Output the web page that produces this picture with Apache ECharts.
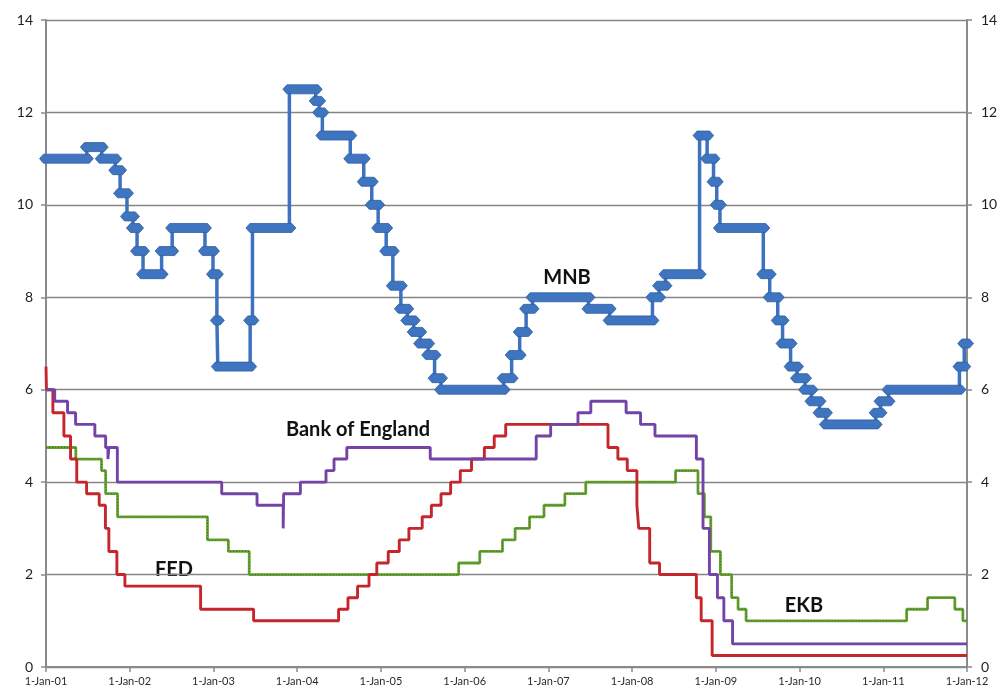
<!DOCTYPE html>
<html><head><meta charset="utf-8">
<script src="https://cdn.jsdelivr.net/npm/echarts@6/dist/echarts.min.js"></script>
<style>html,body{margin:0;padding:0;background:#fff}#c{width:1003px;height:692px}</style>
</head><body><div id="c"></div>
<script>
// ---- data ----
const xTickYears = [2001,2002,2003,2004,2005,2006,2007,2008,2009,2010,2011,2012];
const yTicks = [0,2,4,6,8,10,12,14];

const mnbDates = ['2001-01-01','2001-06-28','2001-09-01','2001-10-30','2001-11-20','2001-12-20','2002-01-15','2002-02-02','2002-02-28','2002-05-20','2002-07-05','2002-11-25','2002-12-30','2003-01-16','2003-01-20','2003-06-10','2003-06-20','2003-11-28','2004-03-22','2004-04-06','2004-04-20','2004-08-20','2004-10-18','2004-11-22','2004-12-20','2005-01-24','2005-02-22','2005-03-29','2005-04-26','2005-05-24','2005-06-21','2005-07-26','2005-08-23','2005-09-20','2006-06-20','2006-07-25','2006-08-29','2006-09-26','2006-10-24','2007-06-25','2007-09-25','2008-03-30','2008-04-28','2008-05-26','2008-10-22','2008-11-24','2008-12-22','2009-01-05','2009-01-19','2009-07-27','2009-08-24','2009-09-28','2009-10-19','2009-11-23','2009-12-21','2010-01-25','2010-02-22','2010-03-29','2010-04-26','2010-11-29','2010-12-20','2011-01-24','2011-11-29','2011-12-20','2012-01-01'];
const mnbValues = [11.0,11.25,11.0,10.75,10.25,9.75,9.5,9.0,8.5,9.0,9.5,9.0,8.5,7.5,6.5,7.5,9.5,12.5,12.25,12.0,11.5,11.0,10.5,10.0,9.5,9.0,8.25,7.75,7.5,7.25,7.0,6.75,6.25,6.0,6.25,6.75,7.25,7.75,8.0,7.75,7.5,8.0,8.25,8.5,11.5,11.0,10.5,10.0,9.5,8.5,8.0,7.5,7.0,6.5,6.25,6.0,5.75,5.5,5.25,5.5,5.75,6.0,6.5,7.0,7.0];

const boeDates = ['2001-01-01','2001-02-08','2001-04-05','2001-05-10','2001-08-02','2001-09-18','2001-09-28','2001-10-02','2001-11-08','2003-02-06','2003-07-10','2003-11-01','2003-11-03','2004-01-15','2004-05-06','2004-06-10','2004-08-05','2005-08-04','2006-11-09','2007-01-11','2007-05-10','2007-07-05','2007-12-06','2008-02-07','2008-04-10','2008-10-08','2008-11-06','2008-12-04','2009-01-08','2009-02-05','2009-03-15','2012-01-01'];
const boeValues = [6.0,5.75,5.5,5.25,5.0,4.75,4.5,4.75,4.0,3.75,3.5,3.0,3.75,4.0,4.25,4.5,4.75,4.5,5.0,5.25,5.5,5.75,5.5,5.25,5.0,4.5,3.0,2.0,1.5,1.0,0.5,0.5];

const fedDates = ['2001-01-01','2001-01-03','2001-01-31','2001-03-20','2001-04-18','2001-05-15','2001-06-27','2001-08-21','2001-09-17','2001-10-02','2001-11-06','2001-12-11','2002-11-06','2003-06-25','2004-06-30','2004-08-10','2004-09-21','2004-11-10','2004-12-14','2005-02-02','2005-03-22','2005-05-03','2005-06-30','2005-08-09','2005-09-20','2005-11-01','2005-12-13','2006-01-31','2006-03-28','2006-05-10','2006-06-29','2007-09-18','2007-10-31','2007-12-11','2008-01-22','2008-01-30','2008-03-18','2008-04-30','2008-10-08','2008-10-29','2008-12-16','2012-01-01'];
const fedValues = [6.5,6.0,5.5,5.0,4.5,4.0,3.75,3.5,3.0,2.5,2.0,1.75,1.25,1.0,1.25,1.5,1.75,2.0,2.25,2.5,2.75,3.0,3.25,3.5,3.75,4.0,4.25,4.5,4.75,5.0,5.25,4.75,4.5,4.25,3.5,3.0,2.25,2.0,1.5,1.0,0.25,0.25];

const ekbDates = ['2001-01-01','2001-05-11','2001-08-31','2001-09-18','2001-11-09','2002-12-06','2003-03-07','2003-06-06','2005-12-06','2006-03-08','2006-06-15','2006-08-09','2006-10-11','2006-12-13','2007-03-14','2007-06-13','2008-07-09','2008-10-15','2008-11-12','2008-12-10','2009-01-21','2009-03-11','2009-04-08','2009-05-13','2011-04-13','2011-07-13','2011-11-09','2011-12-14','2012-01-01'];
const ekbValues = [4.75,4.5,4.25,3.75,3.25,2.75,2.5,2.0,2.25,2.5,2.75,3.0,3.25,3.5,3.75,4.0,4.25,3.75,3.25,2.5,2.0,1.5,1.25,1.0,1.25,1.5,1.25,1.0,1.0];

const seriesNames = ['MNB','Bank of England','FED','EKB'];

// ---- helpers ----
function toYear(s){
  const p = s.split('-').map(Number);
  const t = Date.UTC(p[0],p[1]-1,p[2]);
  const t0 = Date.UTC(p[0],0,1), t1 = Date.UTC(p[0]+1,0,1);
  return p[0] + (t - t0)/(t1 - t0);
}
function pairs(dates, vals){ return dates.map((d,i)=>[toYear(d), vals[i]]); }
const mnb = pairs(mnbDates, mnbValues);
const mnbBands = mnb.slice(0,-1).map((p,i)=>[p[0], mnb[i+1][0], p[1]]);

const FONT = 'Lato, "Open Sans", sans-serif';
const axisGray = '#8a8a8a';

const chart = echarts.init(document.getElementById('c'), null, {renderer:'canvas'});
chart.setOption({
  animation:false,
  backgroundColor:'#ffffff',
  grid:{left:46, right:36, top:20, bottom:25, containLabel:false},
  xAxis:{
    type:'value', min:xTickYears[0], max:xTickYears[xTickYears.length-1], interval:1,
    axisLine:{show:true, lineStyle:{color:axisGray, width:2}},
    axisTick:{show:true, length:5, lineStyle:{color:axisGray, width:1.5}},
    splitLine:{show:false},
    axisLabel:{fontFamily:FONT, fontSize:11, color:'#2a2a2a', margin:9,
      formatter:v=> xTickYears.indexOf(v)>=0 ? '1-Jan-'+String(v).slice(2) : ''}
  },
  yAxis:[
    {type:'value', position:'left', min:yTicks[0], max:yTicks[yTicks.length-1], interval:2,
     axisLine:{show:true, lineStyle:{color:axisGray, width:2}},
     axisTick:{show:true, length:5, lineStyle:{color:axisGray, width:1.5}},
     splitLine:{show:true, lineStyle:{color:'#858585', width:1.3}},
     axisLabel:{fontFamily:FONT, fontSize:14, color:'#1e1e1e', margin:13}},
    {type:'value', position:'right', min:yTicks[0], max:yTicks[yTicks.length-1], interval:2,
     axisLine:{show:true, lineStyle:{color:axisGray, width:2}},
     axisTick:{show:true, length:5, lineStyle:{color:axisGray, width:1.5}},
     splitLine:{show:false},
     axisLabel:{fontFamily:FONT, fontSize:14, color:'#1e1e1e', margin:14}}
  ],
  series:[
    {name:seriesNames[3], type:'line', step:'end', data:pairs(ekbDates, ekbValues), showSymbol:false,
     lineStyle:{color:'#66a232', width:2.8}, z:2},
    {name:seriesNames[3]+' dots', type:'line', step:'end', data:pairs(ekbDates, ekbValues), showSymbol:false,
     lineStyle:{color:'#3d6a1c', width:1, type:[1,2]}, z:3, silent:true},
    {name:seriesNames[2], type:'line', step:'end', data:pairs(fedDates, fedValues), showSymbol:false,
     lineStyle:{color:'#c4262c', width:2.9}, z:4},
    {name:seriesNames[1], type:'line', step:'end', data:pairs(boeDates, boeValues), showSymbol:false,
     lineStyle:{color:'#7443a8', width:2.9}, z:5},
    {name:seriesNames[0], type:'line', step:'end', data:mnb, showSymbol:false,
     lineStyle:{color:'#3d72c0', width:3.5}, z:6},
    {name:seriesNames[0]+' band', type:'custom', data:mnbBands, z:7, silent:true,
     encode:{x:[0,1], y:2},
     renderItem:function(params, api){
       const p1 = api.coord([api.value(0), api.value(2)]);
       const p2 = api.coord([api.value(1), api.value(2)]);
       const h = 4.5, e = 6.5;
       return {type:'polygon', shape:{points:[
         [p1[0]-e,p1[1]],[p1[0]-2.5,p1[1]-h],[p2[0]+2.5,p2[1]-h],[p2[0]+e,p2[1]],[p2[0]+2.5,p2[1]+h],[p1[0]-2.5,p1[1]+h]]},
         style:{fill:'#3f74c0', stroke:'#2f5f9f', lineWidth:0.8}};
     }}
  ],
  graphic:[
    {type:'text', x:567, y:278, style:{text:'MNB', font:'bold 20px '+FONT, fill:'#111', align:'center', verticalAlign:'middle'}},
    {type:'text', x:358, y:430, style:{text:'Bank of England', font:'bold 20px '+FONT, fill:'#111', align:'center', verticalAlign:'middle'}},
    {type:'text', x:174, y:570, style:{text:'FED', font:'bold 20px '+FONT, fill:'#111', align:'center', verticalAlign:'middle'}},
    {type:'text', x:804, y:606, style:{text:'EKB', font:'bold 20px '+FONT, fill:'#111', align:'center', verticalAlign:'middle'}}
  ]
});
</script>
</body></html>
